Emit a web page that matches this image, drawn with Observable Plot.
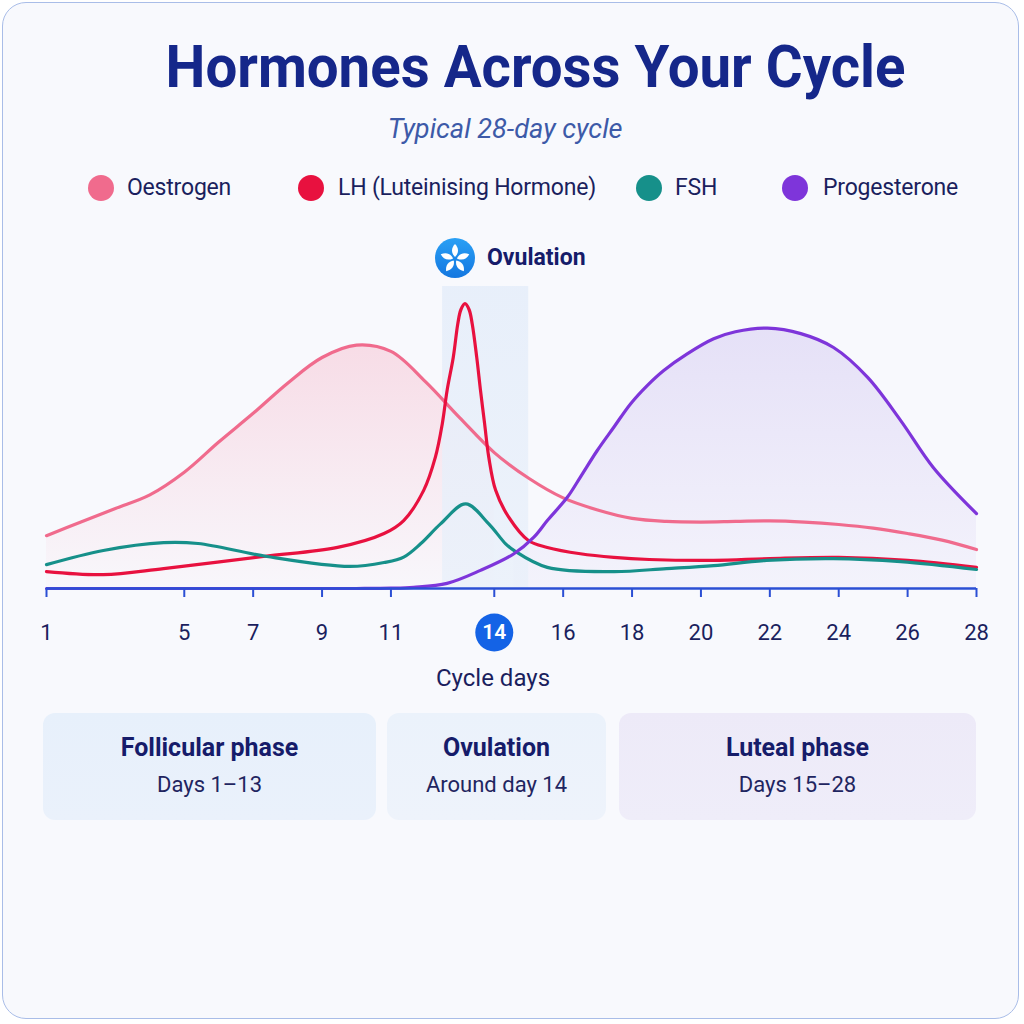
<!DOCTYPE html>
<html><head><meta charset="utf-8">
<script src="https://cdn.jsdelivr.net/npm/d3@7"></script>
<script src="https://cdn.jsdelivr.net/npm/@observablehq/plot@0.6"></script>
<style>
html,body{margin:0;padding:0;background:#ffffff;}
body{width:1024px;height:1024px;position:relative;overflow:hidden;font-family:Roboto,"Noto Sans",sans-serif;color:#1b1f5e;}
#card{position:absolute;left:2px;top:2px;width:1015px;height:1015px;border:1.5px solid #a9bde8;border-radius:24px;background:#f8f9fd;}
.abs{position:absolute;white-space:nowrap;}
#title{left:0;width:1072px;top:37px;text-align:center;font-size:60px;line-height:60px;font-weight:700;color:#15278a;}
#title span{display:inline-block;transform:scaleX(0.94);transform-origin:center;}
#subtitle{left:305px;width:400px;top:113px;text-align:center;font-size:28px;line-height:32px;font-style:italic;font-weight:400;color:#3d5aa8;}
#subtitle span{display:inline-block;transform:scaleX(0.97);}
.sw{position:absolute;width:26px;height:26px;border-radius:50%;top:175px;}
.lt{position:absolute;top:174px;font-size:23px;line-height:28px;color:#1b1f5e;letter-spacing:-0.2px;}
#ovIcon{left:435px;top:238px;width:40px;height:40px;}
#ovText{left:487px;top:244px;font-size:23px;line-height:28px;font-weight:700;color:#161c6a;}
#chart{position:absolute;left:0;top:280px;}
#xlabel{left:393px;width:200px;top:663px;text-align:center;font-size:24px;line-height:30px;color:#1b1f5e;}
.phase{position:absolute;top:713px;height:107px;border-radius:12px;text-align:center;}
.phase .h{position:absolute;left:0;right:0;top:21px;font-size:25px;line-height:28px;font-weight:700;color:#161c6a;}
.phase .s{position:absolute;left:0;right:0;top:59px;font-size:22px;line-height:26px;color:#1f2560;}
</style>
</head>
<body>
<div id="card"></div>
<div id="title" class="abs"><span>Hormones Across Your Cycle</span></div>
<div id="subtitle" class="abs"><span>Typical 28-day cycle</span></div>
<div id="legend"></div>
<svg id="ovIcon" class="abs" viewBox="0 0 40 40">
  <defs><linearGradient id="icg" x1="0" y1="0" x2="0" y2="1"><stop offset="0" stop-color="#2aa0f5"/><stop offset="1" stop-color="#1477e0"/></linearGradient></defs>
  <circle cx="20" cy="20" r="20" fill="url(#icg)"/>
  <g fill="#ffffff" transform="translate(20,21)">
    <path d="M0,-2 C-4,-6 -4,-11 0,-15 C4,-11 4,-6 0,-2Z" transform="rotate(0)"/>
    <path d="M0,-2 C-4,-6 -4,-11 0,-15 C4,-11 4,-6 0,-2Z" transform="rotate(72)"/>
    <path d="M0,-2 C-4,-6 -4,-11 0,-15 C4,-11 4,-6 0,-2Z" transform="rotate(144)"/>
    <path d="M0,-2 C-4,-6 -4,-11 0,-15 C4,-11 4,-6 0,-2Z" transform="rotate(216)"/>
    <path d="M0,-2 C-4,-6 -4,-11 0,-15 C4,-11 4,-6 0,-2Z" transform="rotate(288)"/>
    <circle cx="0" cy="0" r="1.8" fill="#1a86e8"/>
  </g>
</svg>
<div id="ovText" class="abs">Ovulation</div>
<div id="chart"></div>
<div id="xlabel" class="abs">Cycle days</div>
<div id="phases"></div>
<script>
// ---- data ----
const hormones = ["Oestrogen", "LH (Luteinising Hormone)", "FSH", "Progesterone"];
const hormoneColors = ["#f06b8d", "#e8113f", "#16908a", "#7e35da"];

const oestrogenDays = [1,2,3,4,5,6,7,8,9,10,11,12,13,14,15,16,17,18,19,20,21,22,23,24,25,26,27,28];
const oestrogenLevels = [17.5,22,26.5,31,38.5,48.5,58,68,76.5,80.6,78.5,68.5,56.5,45,36.5,30,26,23.2,22.2,22,22.2,22.4,22,21.2,20,18.2,16,12.9];

const lhDays = [1,2.65,4.4,7.3,9.45,10.8,11.37,11.95,12.29,12.49,12.63,12.81,12.94,13.03,13.15,13.27,13.36,13.49,13.6,13.72,13.84,14.04,14.42,15.0,15.54,16.5,17.47,18.5,20.37,22,24,26,28];
const lhLevels = [5.6,4.6,6.6,10.6,13.6,18.2,22.5,32.5,43.5,54.5,65.6,76.6,87.6,92.3,94.3,92.3,87.6,76.6,65.6,54.5,43.5,32.5,23.6,15.8,13.6,11.5,10.3,9.6,9.3,9.9,10.3,9.3,7];

const fshDays = [1,2.65,4.4,5.4,7.4,9.8,10.8,11.37,11.86,12.44,13.17,13.84,14.33,14.57,15.54,17.47,19,20.37,21.9,23.85,25.8,28];
const fshLevels = [7.9,12.6,15.2,14.9,10.6,7.3,8.6,10.4,14.8,21.4,28,21.4,14.8,12.6,7,5.6,6.6,7.6,9.3,9.9,8.9,6.3];

const progesteroneDays = [1,6,10,11,11.66,12.63,13.6,14.57,15.15,15.54,16.12,16.5,16.99,17.47,17.96,18.44,18.92,19.6,20.37,21,21.93,22.9,23.85,24.84,25.8,26.75,28];
const progesteroneLevels = [0,0,0,0.1,0.4,1.7,6,11.5,17,22.5,30.2,36.9,45.7,53.4,61.2,67.2,72.2,77.7,82.7,85,86.2,84.4,79.8,69.9,55.6,40,24.8];

const tickDays = [1,5,7,9,11,14,16,18,20,22,24,26,28];
const ovulationDay = 14;
const ovulationWindow = [12.5, 15];

const phaseNames = ["Follicular phase", "Ovulation", "Luteal phase"];
const phaseRanges = ["Days 1–13", "Around day 14", "Days 15–28"];

// ---- build tables ----
const rows = (days, levels, name) => days.map((day, i) => ({day, level: levels[i], hormone: name}));
const oe = rows(oestrogenDays, oestrogenLevels, hormones[0]);
const lh = rows(lhDays, lhLevels, hormones[1]);
const fsh = rows(fshDays, fshLevels, hormones[2]);
const pg = rows(progesteroneDays, progesteroneLevels, hormones[3]);

// ---- legend ----
const legendCircleX = [88, 298, 636, 782];
const legendTextX = [127, 338, 675, 823];
const legend = document.getElementById("legend");
hormones.forEach((h, i) => {
  const c = document.createElement("div");
  c.className = "sw"; c.style.left = legendCircleX[i] + "px"; c.style.background = hormoneColors[i];
  legend.appendChild(c);
  const t = document.createElement("div");
  t.className = "lt"; t.style.left = legendTextX[i] + "px"; t.textContent = h;
  legend.appendChild(t);
});

// ---- phase cards ----
const phaseLeft = [43, 387, 619], phaseWidth = [333, 219, 357];
const phaseBg = ["linear-gradient(180deg,#e7f0fb,#eaf1fb)", "linear-gradient(180deg,#ebf2fb,#eef3fb)", "linear-gradient(180deg,#edeaf8,#efedf9)"];
const phases = document.getElementById("phases");
phaseNames.forEach((p, i) => {
  const d = document.createElement("div");
  d.className = "phase";
  d.style.left = phaseLeft[i] + "px"; d.style.width = phaseWidth[i] + "px"; d.style.background = phaseBg[i];
  d.innerHTML = `<div class="h">${p}</div><div class="s">${phaseRanges[i]}</div>`;
  phases.appendChild(d);
});

// ---- chart ----
const axisBlue = "#2b4fd4";
const navy = "#1b1f5e";
const defs = () => {
  const g = d3.create("svg:defs");
  const a = g.append("linearGradient").attr("id", "gOe").attr("x1", 0).attr("y1", 0).attr("x2", 0).attr("y2", 1);
  a.append("stop").attr("offset", "0%").attr("stop-color", "#f58aa6").attr("stop-opacity", 0.26);
  a.append("stop").attr("offset", "100%").attr("stop-color", "#f58aa6").attr("stop-opacity", 0.02);
  const b = g.append("linearGradient").attr("id", "gPg").attr("x1", 0).attr("y1", 0).attr("x2", 0).attr("y2", 1);
  b.append("stop").attr("offset", "0%").attr("stop-color", "#9b7fe0").attr("stop-opacity", 0.20);
  b.append("stop").attr("offset", "100%").attr("stop-color", "#9b7fe0").attr("stop-opacity", 0.05);
  const c = g.append("linearGradient").attr("id", "gOv").attr("x1", 0).attr("y1", 0).attr("x2", 0).attr("y2", 1);
  c.append("stop").attr("offset", "0%").attr("stop-color", "#e6eefa").attr("stop-opacity", 0.9);
  c.append("stop").attr("offset", "100%").attr("stop-color", "#e9f0fa").attr("stop-opacity", 0.8);
  return g.node();
};

const curve = "catmull-rom";
const chart = Plot.plot({
  width: 1024,
  height: 380,
  marginTop: 6,
  marginBottom: 72,
  marginLeft: 46,
  marginRight: 48,
  style: {background: "transparent", fontFamily: "Roboto, 'Noto Sans', sans-serif", overflow: "visible"},
  x: {domain: [1, 28]},
  y: {domain: [0, 100], axis: null},
  marks: [
    defs,
    Plot.areaY(oe.filter(d => d.day <= 14), {x: "day", y: "level", fill: "url(#gOe)", curve}),
    Plot.areaY(pg.filter(d => d.day >= 14), {x: "day", y: "level", fill: "url(#gPg)", curve}),
    Plot.rect([ovulationWindow], {x1: d => d[0], x2: d => d[1], y1: 0, y2: 100, fill: "url(#gOv)"}),
    Plot.line(oe, {x: "day", y: "level", stroke: hormoneColors[0], strokeWidth: 3.2, curve}),
    Plot.line(lh, {x: "day", y: "level", stroke: hormoneColors[1], strokeWidth: 3.2, curve}),
    Plot.line(fsh, {x: "day", y: "level", stroke: hormoneColors[2], strokeWidth: 3.2, curve}),
    Plot.line(pg, {x: "day", y: "level", stroke: hormoneColors[3], strokeWidth: 3.2, curve}),
    Plot.ruleY([0], {stroke: axisBlue, strokeWidth: 2.5}),
    Plot.axisX({ticks: tickDays, tickSize: 9, tickFormat: () => "", stroke: axisBlue, strokeWidth: 2, label: null}),
    Plot.text(tickDays.filter(d => d !== ovulationDay), {x: d => d, y: 0, dy: 44, text: d => String(d), lineAnchor: "middle", fontSize: 22, fill: navy}),
    Plot.dot([ovulationDay], {x: d => d, y: 0, dy: 44, r: 19, fill: "#1463e6", stroke: "none"}),
    Plot.text([ovulationDay], {x: d => d, y: 0, dy: 44, text: d => String(d), lineAnchor: "middle", fontSize: 21, fontWeight: 600, fill: "#ffffff"})
  ]
});
document.getElementById("chart").appendChild(chart);
</script>
</body></html>
